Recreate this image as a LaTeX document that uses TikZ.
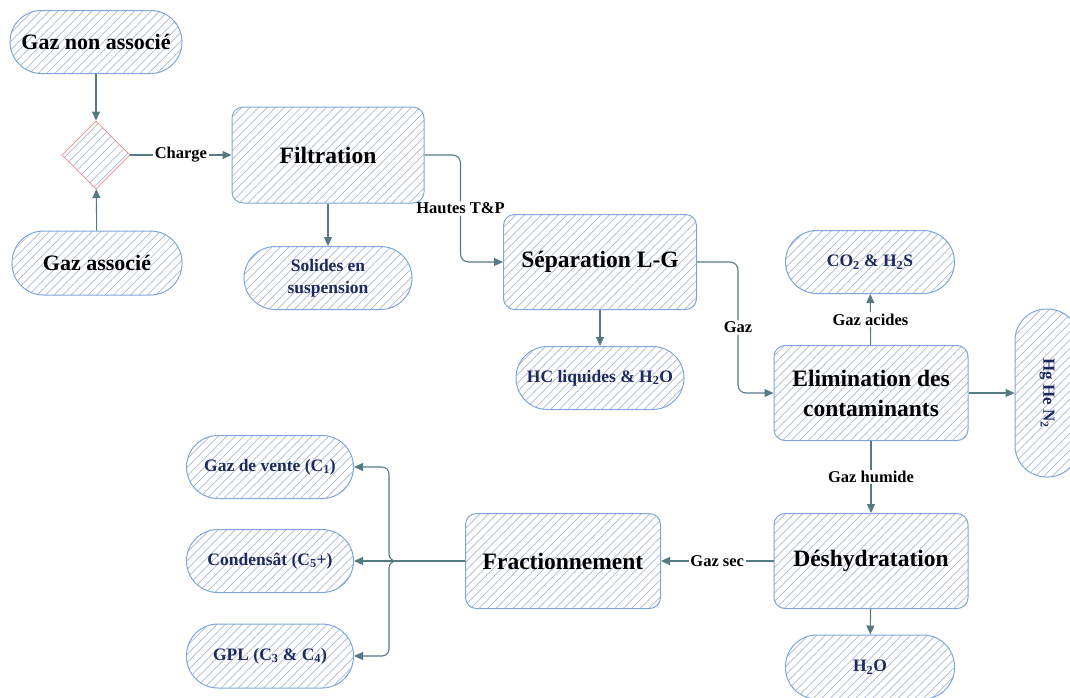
\documentclass[tikz,border=0pt]{standalone}
\usepackage{fontspec}
\setmainfont{Liberation Serif}
\usetikzlibrary{shapes.geometric,arrows.meta,patterns.meta}
\definecolor{edgeblue}{HTML}{7EA6D8}
\definecolor{hatch}{HTML}{A8B8D2}
\definecolor{arrowc}{HTML}{557A82}
\definecolor{navy}{HTML}{1C2A5E}
\definecolor{diamred}{HTML}{F08A8A}
\tikzset{
  hatched/.style={pattern={Lines[angle=45,distance=6pt,line width=0.7pt]},pattern color=hatch},
  proc/.style={hatched, draw=edgeblue, line width=1pt, rounded corners=11pt,
    minimum width=193pt, minimum height=95pt, align=center,
    font=\bfseries\fontsize{23.5}{30}\selectfont},
  term/.style={hatched, draw=edgeblue, line width=1pt, rounded corners=31.5pt,
    minimum width=168pt, minimum height=63pt, align=center, text=navy,
    font=\bfseries\fontsize{17.5}{22}\selectfont},
  src/.style={term, text=black, font=\bfseries\fontsize{22}{26}\selectfont},
  mixer/.style={shape=diamond, hatched, draw=diamred, line width=0.8pt,
    minimum width=68pt, minimum height=68pt, inner sep=0pt},
  arr/.style={draw=arrowc, line width=1.1pt, -{Triangle[length=9pt,width=8pt]}},
  lbl/.style={fill=white, inner sep=1.5pt, text=black,
    font=\bfseries\fontsize{16.5}{18}\selectfont},
}
\begin{document}
\begin{tikzpicture}[x=1pt,y=-1pt]
\useasboundingbox (0,0) rectangle (1070,697);
\clip (0,0) rectangle (1070,697);

% inlets
\node[src, minimum width=172pt] (gna) at (96,42) {Gaz non associé};
\node[mixer] (mix) at (96,155) {};
\node[src, minimum width=170pt, minimum height=64pt] (ga) at (97,263) {Gaz associé};

% process units
\node[proc, minimum width=192pt, minimum height=96pt] (filt) at (328,155) {Filtration};
\node[proc] (sep) at (600,262) {Séparation L-G};
\node[proc, minimum width=194pt] (elim) at (871,393) {Elimination des\\contaminants};
\node[proc, minimum width=194pt] (desh) at (871,561) {Déshydratation};
\node[proc, minimum width=195pt] (frac) at (563,561) {Fractionnement};

% outputs
\node[term] (sol) at (328,278) {Solides en\\suspension};
\node[term] (hc) at (600,378) {HC liquides \& H\textsubscript{2}O};
\node[term, minimum width=169pt] (co2) at (870,262) {CO\textsubscript{2} \& H\textsubscript{2}S};
\node[term, rotate=-90, minimum width=168pt, minimum height=64pt,
  font=\bfseries\fontsize{17}{20}\selectfont] (hg) at (1047,393) {Hg He N\textsubscript{2}};
\node[term, minimum width=169pt, minimum height=64pt] (h2o) at (870,667) {H\textsubscript{2}O};
\node[term, minimum width=167pt] (gv) at (270,467) {Gaz de vente (C\textsubscript{1})};
\node[term, minimum width=167pt] (cond) at (270,561) {Condensât (C\textsubscript{5}+)};
\node[term, minimum width=167pt, minimum height=64pt] (gpl) at (270,656) {GPL (C\textsubscript{3} \& C\textsubscript{4})};

% flows
\draw[arr] (gna) -- (mix);
\draw[arr] (ga) -- (mix);
\draw[arr] (mix) -- node[lbl]{Charge} (filt);
\draw[arr] (filt) -- (sol);
\draw[arr, rounded corners=8pt] (filt.east) -- ++(36,0) |- node[lbl,pos=0.25]{Hautes T\&P} (sep.west);
\draw[arr] (sep) -- (hc);
\draw[arr, rounded corners=8pt] (sep.east) -- ++(41,0) |- node[lbl,pos=0.25]{Gaz} (elim.west);
\draw[arr] (elim) -- node[lbl]{Gaz acides} (co2);
\draw[arr] (elim.east) -- (hg.south);
\draw[arr] (elim) -- node[lbl]{Gaz humide} (desh);
\draw[arr] (desh) -- node[lbl]{Gaz sec} (frac);
\draw[arr] (desh) -- (h2o);
\draw[arr, rounded corners=7pt] (frac.west) -- ++(-76,0) |- (gv.east);
\draw[arr] (frac.west) -- (cond.east);
\draw[arr, rounded corners=7pt] (frac.west) -- ++(-76,0) |- (gpl.east);
\end{tikzpicture}
\end{document}
